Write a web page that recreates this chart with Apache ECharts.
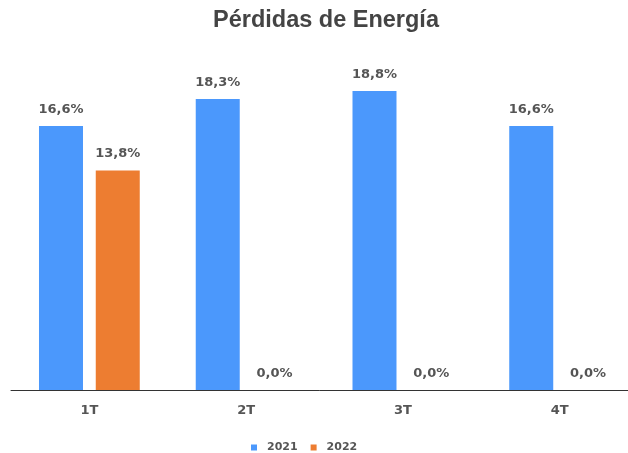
<!DOCTYPE html>
<html>
<head>
<meta charset="utf-8">
<script src="https://cdn.jsdelivr.net/npm/echarts@6/dist/echarts.min.js"></script>
<style>html,body{margin:0;padding:0;background:#fff}#c{width:628px;height:453px}</style>
</head>
<body>
<div id="c"></div>
<script>
const titleText = 'Pérdidas de Energía';
const categories = ['1T', '2T', '3T', '4T'];
const seriesNames = ['2021', '2022'];
const values2021 = [16.6, 18.3, 18.8, 16.6];
const values2022 = [13.8, 0.0, 0.0, 0.0];
const colors = ['#4b98fc', '#ed7d31'];

const labelStyle = {
  show: true,
  position: 'top',
  distance: 10,
  fontFamily: 'DejaVu Sans',
  fontWeight: 'bold',
  fontSize: 13,
  color: '#555',
  formatter: p => p.value.toFixed(1).replace('.', ',') + '%'
};

const chart = echarts.init(document.getElementById('c'), null, {renderer: 'canvas'});
chart.setOption({
  animation: false,
  backgroundColor: '#fff',
  title: {
    text: titleText,
    left: 326, textAlign: 'center',
    top: 9, padding: 0,
    textStyle: {fontFamily: 'Liberation Sans', fontWeight: 'bold', fontSize: 23.5, color: '#444'}
  },
  legend: {
    data: seriesNames,
    top: 442,
    left: 251,
    padding: 0,
    icon: 'rect',
    itemWidth: 6, itemHeight: 6,
    itemGap: 13,
    textStyle: {fontFamily: 'DejaVu Sans', fontWeight: 'bold', fontSize: 11, color: '#555', padding: [0, 0, 0, 5]}
  },
  grid: {left: 11, right: -10, top: 72, bottom: 63, containLabel: false, outerBoundsMode: 'none'},
  xAxis: {
    type: 'category',
    data: categories,
    axisLine: {lineStyle: {color: '#333', width: 1}},
    axisTick: {show: false},
    axisLabel: {margin: 14, fontFamily: 'DejaVu Sans', fontWeight: 'bold', fontSize: 13, color: '#555'}
  },
  yAxis: {
    type: 'value', min: 0, max: 20, interval: 5,
    show: false,
    splitLine: {show: false}
  },
  series: [
    {name: seriesNames[0], type: 'bar', data: values2021, barWidth: 44, barGap: '29%', itemStyle: {color: colors[0]}, label: labelStyle},
    {name: seriesNames[1], type: 'bar', data: values2022, barWidth: 44, itemStyle: {color: colors[1]}, label: labelStyle}
  ]
});
</script>
</body>
</html>
